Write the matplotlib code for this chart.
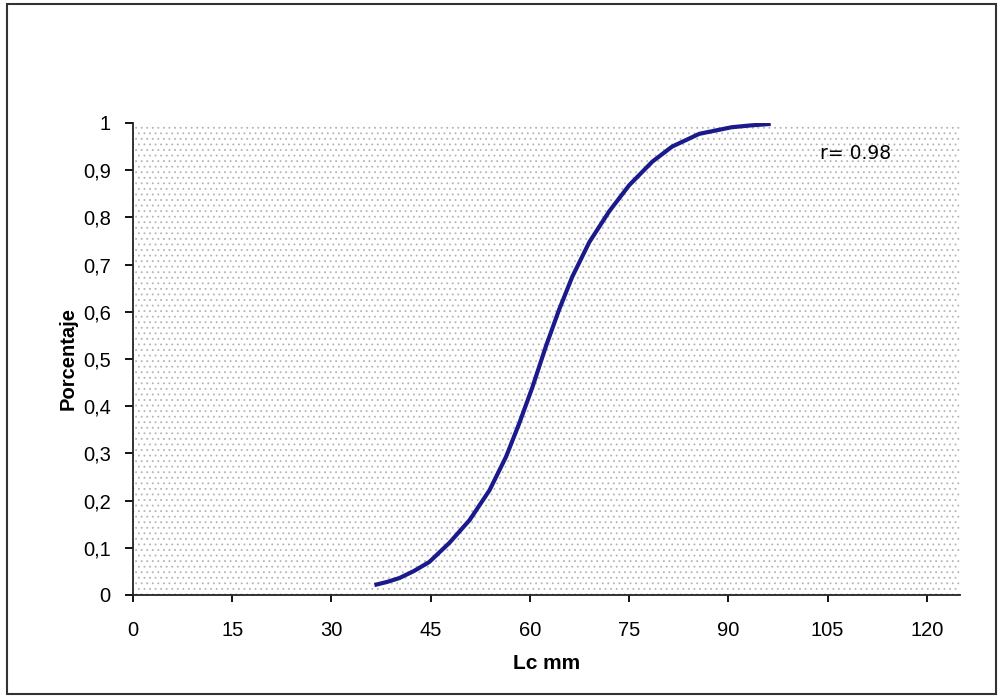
import matplotlib
matplotlib.use("Agg")
import matplotlib.pyplot as plt
from matplotlib.patches import Rectangle

# Data
lc_mm = [36.5, 38.5, 40.3, 42.5, 44.8, 47.8, 50.9, 53.9, 56.4, 58.4, 60.4, 62.4,
         64.4, 66.4, 69.0, 72.0, 75.0, 78.5, 81.5, 85.6, 90.5, 93.5, 96.4]
porcentaje = [0.021, 0.028, 0.036, 0.051, 0.070, 0.110, 0.159, 0.222, 0.293, 0.364,
              0.441, 0.526, 0.604, 0.674, 0.748, 0.813, 0.868, 0.918, 0.950, 0.977,
              0.991, 0.995, 0.998]
x_ticks = [0, 15, 30, 45, 60, 75, 90, 105, 120]
y_ticks = [0, 0.1, 0.2, 0.3, 0.4, 0.5, 0.6, 0.7, 0.8, 0.9, 1.0]
y_tick_labels = ["0", "0,1", "0,2", "0,3", "0,4", "0,5", "0,6", "0,7", "0,8", "0,9", "1"]

plt.rcParams['font.family'] = ['Liberation Sans', 'DejaVu Sans']
plt.rcParams['hatch.linewidth'] = 0.6

fig = plt.figure(figsize=(10.03, 6.98), dpi=100)
ax = fig.add_axes([0.1326, 0.1476, 0.957 - 0.1326, 0.8238 - 0.1476])

# dotted pattern background of the plot area
bg = Rectangle((0, 0), 1, 1, transform=ax.transAxes, facecolor='none',
               edgecolor='#b4b4b4', linewidth=0, hatch='...', zorder=0)
ax.add_patch(bg)

ax.plot(lc_mm, porcentaje, color='#1a1a8c', linewidth=3, solid_capstyle='butt',
        solid_joinstyle='round', zorder=3)

ax.set_xlim(0, 125)
ax.set_ylim(0, 1)
ax.set_xticks(x_ticks)
ax.set_xticklabels([str(v) for v in x_ticks])
ax.set_yticks(y_ticks)
ax.set_yticklabels(y_tick_labels)

for s in ['top', 'right']:
    ax.spines[s].set_visible(False)
for s in ['left', 'bottom']:
    ax.spines[s].set_linewidth(1.3)
    ax.spines[s].set_color('#222222')

ax.tick_params(axis='x', direction='out', length=5, width=1.3, pad=14, labelsize=14.5)
ax.tick_params(axis='y', direction='out', length=6, width=1.3, pad=10, labelsize=14.5)

ax.set_xlabel('Lc mm', fontsize=15, fontweight='bold', labelpad=10)
ax.set_ylabel('Porcentaje', fontsize=14.5, fontweight='bold', labelpad=4)

ax.text(103.8, 0.935, 'r= 0.98', fontsize=13.5, family='DejaVu Sans', ha='left', va='center')

# outer frame
fig.patches.append(Rectangle((7 / 1003, 4 / 698), (996 - 7) / 1003, (694 - 4) / 698,
                             transform=fig.transFigure, fill=False,
                             edgecolor='#333333', linewidth=1.5))

fig.savefig('out.png', dpi=100)
